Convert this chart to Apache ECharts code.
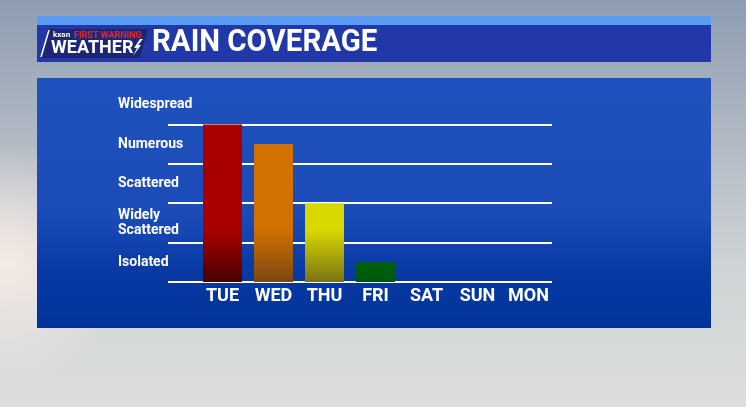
<!DOCTYPE html>
<html>
<head>
<meta charset="utf-8">
<script src="https://cdn.jsdelivr.net/npm/echarts@6/dist/echarts.min.js"></script>
<style>
html,body{margin:0;padding:0;width:746px;height:407px;overflow:hidden;}
#c{width:746px;height:407px;}
</style>
</head>
<body>
<div id="c"></div>
<script>
// ---- data ----
const days = ['TUE', 'WED', 'THU', 'FRI', 'SAT', 'SUN', 'MON'];
const coverage = [4, 3.5, 2, 0.5, 0, 0, 0];
const levels = ['Isolated', 'Widely\nScattered', 'Scattered', 'Numerous', 'Widespread'];
const barTop = ['#a80000', '#d27000', '#d8d800', '#007c00', '#007c00', '#007c00', '#007c00'];
const barBottom = ['#4a0000', '#7a4812', '#7a7214', '#005510', '#005510', '#005510', '#005510'];
const chartTitle = 'RAIN COVERAGE';

const FONT = "Roboto, 'DejaVu Sans Condensed', sans-serif";

const chart = echarts.init(document.getElementById('c'));

const barData = coverage.map((v, i) => ({
  value: v,
  itemStyle: {
    color: {
      type: 'linear', x: 0, y: 230, x2: 0, y2: 282, global: true,
      colorStops: [{offset: 0, color: barTop[i]}, {offset: 1, color: barBottom[i]}]
    }
  }
}));

chart.setOption({
  backgroundColor: {
    type: 'linear', x: 0, y: 0, x2: 0, y2: 1,
    colorStops: [
      {offset: 0, color: '#8e9db3'},
      {offset: 0.3, color: '#adb6c2'},
      {offset: 0.65, color: '#cfd3d5'},
      {offset: 1, color: '#dcdedd'}
    ]
  },
  animation: false,
  graphic: [
    // soft warm glow at left
    {type: 'rect', z: -20, shape: {x: 0, y: 120, width: 150, height: 287},
     style: {fill: {type: 'radial', x: 0.05, y: 0.5, r: 0.8,
       colorStops: [{offset: 0, color: 'rgba(248,236,230,0.95)'}, {offset: 1, color: 'rgba(248,236,230,0)'}]}}},
    // header light strip
    {type: 'rect', z: -10, shape: {x: 37, y: 16, width: 674, height: 9}, style: {fill: '#5a9cf3'}},
    // header navy band
    {type: 'rect', z: -10, shape: {x: 37, y: 25, width: 674, height: 37}, style: {fill: '#2338a8'}},
    // logo
    {type: 'polygon', z: -9, shape: {points: [[48, 29], [148, 29], [140, 58], [40, 58]]}, style: {fill: '#1b2677'}},
    {type: 'polyline', z: -8, shape: {points: [[49, 30], [41, 57]]}, style: {stroke: '#ffffff', lineWidth: 1.5}},
    {type: 'text', z: 5, style: {x: 53, y: 31, text: 'kxan', fill: '#ffffff', font: 'bold 8px ' + FONT}},
    {type: 'text', z: 5, style: {x: 74, y: 31, text: 'FIRST WARNING', fill: '#e8262a', font: 'bold 9px ' + FONT}},
    {type: 'text', z: 5, style: {x: 51, y: 39, text: 'WEATHER', fill: '#ffffff', font: 'bold 18px ' + FONT}},
    {type: 'polygon', z: 5, shape: {points: [[140, 39], [134, 48], [137, 48], [133, 56], [141, 45], [138, 45], [143, 39]]}, style: {fill: '#ffffff'}},
    // title
    {type: 'text', z: 5, x: 152, y: 43, scaleX: 0.92,
     style: {x: 0, y: 0, text: chartTitle, fill: '#ffffff', font: 'bold 32px ' + FONT, verticalAlign: 'middle'}},
    // main panel
    {type: 'rect', z: -10, shape: {x: 37, y: 78, width: 674, height: 250},
     style: {fill: {type: 'linear', x: 0, y: 0, x2: 0, y2: 1,
       colorStops: [
         {offset: 0, color: '#1f52be'},
         {offset: 0.55, color: '#1b4bb7'},
         {offset: 0.75, color: '#0a3aa4'},
         {offset: 1, color: '#00339a'}
       ]}}}
  ],
  grid: [
    {left: 168, right: 194, top: 85, bottom: 125},
    {left: 197, right: 192, top: 85, bottom: 125}
  ],
  xAxis: [
    {gridIndex: 0, type: 'value', show: false, min: 0, max: 1},
    {gridIndex: 1, type: 'category', data: days,
     axisLine: {show: false}, axisTick: {show: false},
     axisLabel: {interval: 0, color: '#ffffff', fontFamily: FONT, fontWeight: 'bold', fontSize: 18, margin: 5}}
  ],
  yAxis: [
    {gridIndex: 0, type: 'value', min: 0, max: 5, interval: 1,
     axisLine: {show: false}, axisTick: {show: false}, axisLabel: {show: false},
     splitLine: {show: true, showMaxLine: false, lineStyle: {color: '#ffffff', width: 2}}},
    {gridIndex: 0, type: 'category', data: levels, position: 'left',
     axisLine: {show: false}, axisTick: {show: false}, splitLine: {show: false},
     axisLabel: {color: '#ffffff', fontFamily: FONT, fontWeight: 'bold', fontSize: 14,
       align: 'left', margin: 50, lineHeight: 15}},
    {gridIndex: 1, type: 'value', min: 0, max: 5, interval: 1, show: false, splitLine: {show: false}}
  ],
  series: [
    {type: 'bar', xAxisIndex: 1, yAxisIndex: 2, data: barData, barWidth: 39, z: 3}
  ]
});
</script>
</body>
</html>
